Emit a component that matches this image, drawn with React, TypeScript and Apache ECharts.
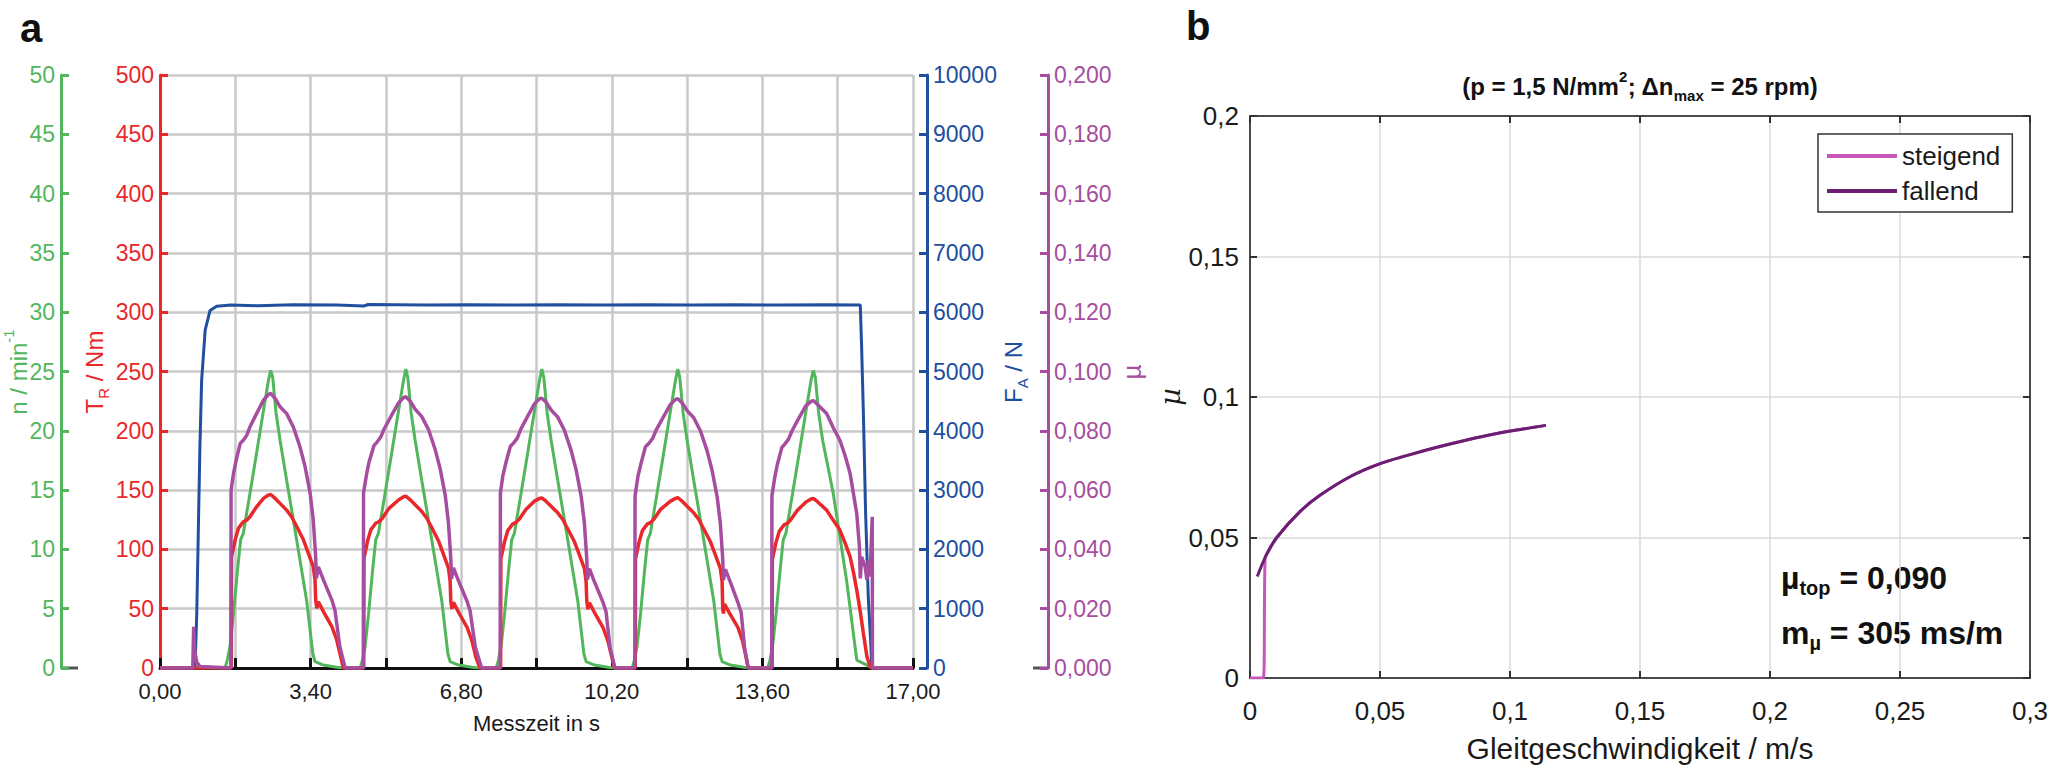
import React, { useEffect, useRef } from 'react';
import * as echarts from 'echarts';

// ---------- Panel a data ----------
const xTickLabelsA = ['0,00', '3,40', '6,80', '10,20', '13,60', '17,00'];

const forceFA: number[][] = [
  [0, 0], [0.79, 0], [0.83, 920], [0.9, 3700], [0.94, 4850], [1.02, 5700], [1.13, 6030], [1.28, 6100],
  [1.6, 6120], [2.2, 6110], [3.0, 6125], [4.0, 6120], [4.6, 6105], [4.7, 6130], [6.0, 6120], [7.0, 6125],
  [8.0, 6120], [9.0, 6125], [10.0, 6120], [11.0, 6125], [12.0, 6120], [13.0, 6125], [14.0, 6120],
  [15.0, 6125], [15.81, 6120], [15.84, 5415], [15.88, 4290], [15.93, 2610], [15.99, 1200], [16.05, 360],
  [16.07, 0], [17, 0],
];

const speedN: number[][] = [
  [0, 0], [1.47, 0],
  [1.52, 0.67], [1.58, 1.8], [1.66, 4.6], [1.75, 8.26], [1.82, 10.8], [1.88, 11.35], [2.03, 14.7], [2.18, 18.1],
  [2.335, 21.7], [2.45, 24.3], [2.5, 25.1], [2.545, 24.5], [2.62, 21.5], [2.71, 19.2], [2.86, 15.8], [3.01, 12.5],
  [3.16, 9.1], [3.31, 5.7], [3.45, 1.2], [3.5, 0.53], [3.69, 0.25], [3.99, 0.06], [4.14, 0],
  [4.52, 0], [4.57, 0.67], [4.63, 1.8], [4.71, 4.6], [4.8, 8.26], [4.87, 10.8], [4.93, 11.35], [5.08, 14.7],
  [5.23, 18.1], [5.385, 21.7], [5.5, 24.3], [5.55, 25.2], [5.595, 24.5], [5.67, 21.5], [5.76, 19.2], [5.91, 15.8],
  [6.06, 12.5], [6.21, 9.1], [6.36, 5.7], [6.5, 1.2], [6.55, 0.53], [6.74, 0.25], [7.04, 0.06], [7.19, 0],
  [7.59, 0], [7.64, 0.67], [7.7, 1.8], [7.78, 4.6], [7.87, 8.26], [7.94, 10.8], [8.0, 11.35], [8.15, 14.7],
  [8.3, 18.1], [8.455, 21.7], [8.57, 24.3], [8.62, 25.2], [8.665, 24.5], [8.74, 21.5], [8.83, 19.2], [8.98, 15.8],
  [9.13, 12.5], [9.28, 9.1], [9.43, 5.7], [9.57, 1.2], [9.62, 0.53], [9.81, 0.25], [10.11, 0.06], [10.26, 0],
  [10.66, 0], [10.71, 0.67], [10.77, 1.8], [10.85, 4.6], [10.94, 8.26], [11.01, 10.8], [11.07, 11.35], [11.22, 14.7],
  [11.37, 18.1], [11.525, 21.7], [11.64, 24.3], [11.69, 25.2], [11.735, 24.5], [11.81, 21.5], [11.9, 19.2],
  [12.05, 15.8], [12.2, 12.5], [12.35, 9.1], [12.5, 5.7], [12.64, 1.2], [12.69, 0.53], [12.88, 0.25], [13.18, 0.06],
  [13.33, 0],
  [13.72, 0], [13.77, 0.67], [13.83, 1.8], [13.91, 4.6], [14.0, 8.26], [14.07, 10.8], [14.13, 11.35], [14.28, 14.7],
  [14.43, 18.1], [14.585, 21.7], [14.7, 24.3], [14.75, 25.1], [14.795, 24.5], [14.87, 21.5], [14.96, 19.2],
  [15.2, 14.7], [15.5, 7.4], [15.73, 0.67], [15.96, 0.25], [16.07, 0], [17, 0],
];

const torqueTR: number[][] = [
  [0, 0], [1.61, 0],
  [1.615, 93.8], [1.695, 107.9], [1.77, 117.7], [1.88, 123.3], [1.96, 124.7], [2.03, 127.5], [2.18, 135.9],
  [2.335, 143.0], [2.45, 145.8], [2.5, 146.3], [2.6, 143.0], [2.71, 138.8], [2.86, 133.1], [2.97, 127.5],
  [3.09, 119.1], [3.24, 107.9], [3.35, 96.6], [3.46, 85.4], [3.5, 74.2], [3.515, 57.3], [3.54, 50.3],
  [3.575, 55.9], [3.69, 47.5], [3.88, 34.8], [3.99, 23.6], [4.08, 9.5], [4.14, 0],
  [4.6, 0], [4.605, 92.5], [4.685, 106.8], [4.76, 116.5], [4.87, 122.0], [4.95, 123.5], [5.02, 126.3],
  [5.17, 134.6], [5.385, 141.7], [5.5, 144.4], [5.55, 144.9], [5.65, 141.8], [5.76, 137.6], [5.91, 132.0],
  [6.02, 126.5], [6.14, 118.0], [6.29, 107.0], [6.4, 95.8], [6.51, 84.6], [6.55, 73.5], [6.565, 56.8],
  [6.59, 49.8], [6.625, 55.4], [6.74, 47.0], [6.93, 34.5], [7.04, 23.4], [7.13, 9.4], [7.22, 0],
  [7.69, 0], [7.695, 92.0], [7.775, 106.0], [7.85, 115.8], [7.96, 121.3], [8.04, 122.8], [8.11, 125.5],
  [8.26, 133.7], [8.455, 140.7], [8.57, 143.0], [8.62, 143.4], [8.72, 140.4], [8.83, 136.3], [8.98, 130.8],
  [9.09, 125.4], [9.21, 117.0], [9.36, 106.2], [9.47, 95.2], [9.58, 84.0], [9.62, 73.0], [9.635, 56.5],
  [9.66, 49.5], [9.695, 55.0], [9.81, 46.6], [10.0, 34.2], [10.11, 23.2], [10.2, 9.3], [10.26, 0],
  [10.73, 0], [10.735, 92.0], [10.815, 106.0], [10.89, 115.8], [11.0, 121.3], [11.08, 122.8], [11.15, 125.5],
  [11.3, 133.7], [11.525, 140.7], [11.64, 143.0], [11.69, 143.6], [11.79, 140.6], [11.9, 136.4], [12.05, 130.8],
  [12.16, 125.4], [12.28, 117.0], [12.43, 106.2], [12.54, 95.2], [12.65, 84.0], [12.69, 73.0], [12.705, 50.0],
  [12.72, 46.0], [12.745, 54.0], [12.86, 46.0], [13.05, 34.0], [13.15, 23.0], [13.23, 9.3], [13.28, 0],
  [13.82, 0], [13.825, 91.5], [13.905, 105.5], [13.98, 115.2], [14.09, 120.8], [14.17, 122.2], [14.24, 125.0],
  [14.39, 133.0], [14.585, 140.0], [14.7, 142.5], [14.75, 143.0], [14.85, 140.0], [15.05, 133.1], [15.2, 124.5],
  [15.35, 116.3], [15.47, 105.0], [15.58, 93.8], [15.66, 80.0], [15.73, 65.7], [15.81, 47.5], [15.88, 29.2],
  [15.96, 9.6], [16.03, 1.4], [16.08, 0], [17, 0],
];

const frictionMu: number[][] = [
  [0, 0], [0.74, 0], [0.76, 0.0139], [0.78, 0.006], [0.83, 0.002], [0.9, 0.0005], [1.6, 0],
  [1.605, 0.06], [1.66, 0.0656], [1.72, 0.0701], [1.81, 0.0757], [1.88, 0.0768], [1.96, 0.0785], [2.03, 0.0813],
  [2.18, 0.0858], [2.335, 0.0903], [2.45, 0.0923], [2.5, 0.0926], [2.6, 0.0909], [2.71, 0.0881], [2.86, 0.0858],
  [3.01, 0.0813], [3.16, 0.0746], [3.275, 0.0679], [3.39, 0.0589], [3.46, 0.0499], [3.5, 0.0409], [3.515, 0.0375],
  [3.53, 0.0302], [3.575, 0.0341], [3.69, 0.0297], [3.88, 0.0229], [3.95, 0.0195], [4.06, 0.0072], [4.18, 0],
  [4.59, 0], [4.595, 0.059], [4.66, 0.065], [4.72, 0.0695], [4.83, 0.075], [4.9, 0.0762], [4.98, 0.0778],
  [5.06, 0.0806], [5.22, 0.085], [5.38, 0.0893], [5.5, 0.0912], [5.55, 0.0915], [5.65, 0.09], [5.76, 0.0873],
  [5.91, 0.0848], [6.06, 0.0805], [6.21, 0.0738], [6.325, 0.0672], [6.44, 0.0582], [6.51, 0.0493], [6.55, 0.0405],
  [6.565, 0.037], [6.58, 0.03], [6.625, 0.0338], [6.74, 0.0294], [6.93, 0.0226], [7.0, 0.0193], [7.12, 0.007],
  [7.26, 0],
  [7.68, 0], [7.685, 0.059], [7.74, 0.0648], [7.81, 0.0693], [7.91, 0.0748], [7.99, 0.076], [8.07, 0.0776],
  [8.14, 0.0804], [8.29, 0.0846], [8.45, 0.089], [8.57, 0.0908], [8.62, 0.091], [8.72, 0.0896], [8.83, 0.087],
  [8.98, 0.0846], [9.13, 0.0802], [9.28, 0.0735], [9.395, 0.0668], [9.51, 0.0578], [9.58, 0.049], [9.62, 0.0402],
  [9.635, 0.0368], [9.65, 0.0298], [9.695, 0.0335], [9.81, 0.029], [10.0, 0.0222], [10.07, 0.019], [10.16, 0.0068],
  [10.27, 0],
  [10.72, 0], [10.725, 0.058], [10.79, 0.0646], [10.86, 0.069], [10.96, 0.0746], [11.04, 0.0758], [11.12, 0.0774],
  [11.2, 0.0802], [11.36, 0.0845], [11.52, 0.0888], [11.64, 0.0906], [11.69, 0.0908], [11.79, 0.0894],
  [11.9, 0.0868], [12.05, 0.0844], [12.2, 0.08], [12.35, 0.0733], [12.465, 0.0666], [12.58, 0.0576],
  [12.65, 0.0488], [12.69, 0.04], [12.705, 0.0366], [12.72, 0.0296], [12.765, 0.0333], [12.88, 0.0288],
  [13.05, 0.022], [13.12, 0.0188], [13.2, 0.0066], [13.28, 0],
  [13.81, 0], [13.815, 0.058], [13.88, 0.0644], [13.94, 0.0688], [14.04, 0.0744], [14.11, 0.0756], [14.19, 0.0772],
  [14.27, 0.08], [14.42, 0.0842], [14.58, 0.0884], [14.7, 0.0899], [14.75, 0.0902], [14.85, 0.0888],
  [15.05, 0.0858], [15.2, 0.081], [15.35, 0.0768], [15.47, 0.0715], [15.58, 0.0656], [15.73, 0.0521],
  [15.79, 0.0409], [15.81, 0.0302], [15.84, 0.0375], [15.92, 0.0341], [15.96, 0.0297], [15.99, 0.0364],
  [16.03, 0.0308], [16.08, 0.051], [16.085, 0], [17, 0],
];

// ---------- Panel b data ----------
const xTickLabelsB = ['0', '0,05', '0,1', '0,15', '0,2', '0,25', '0,3'];
const yTickLabelsB = ['0', '0,05', '0,1', '0,15', '0,2'];

const muRising: number[][] = [
  [0, 0], [0.0051, 0], [0.0058, 0.0429], [0.0064, 0.044], [0.0103, 0.05], [0.0192, 0.0592], [0.0269, 0.065],
  [0.0388, 0.0718], [0.0498, 0.0762], [0.0609, 0.0793], [0.0719, 0.0821], [0.083, 0.0846], [0.094, 0.0868],
  [0.105, 0.0886], [0.1138, 0.0899],
];
const muFalling: number[][] = [
  [0.0028, 0.0361], [0.0064, 0.044], [0.0103, 0.05], [0.0192, 0.0592], [0.0269, 0.065], [0.0388, 0.0718],
  [0.0498, 0.0762], [0.0609, 0.0793], [0.0719, 0.0821], [0.083, 0.0846], [0.094, 0.0868], [0.105, 0.0886],
  [0.1138, 0.0899],
];

// ---------- styles ----------
const FONT = '"Liberation Sans", Arial, Helvetica, sans-serif';
const GREEN = '#52b65c';
const RED = '#e8282b';
const BLUE = '#214f9f';
const PURPLE = '#a64d9f';
const PINK = '#c557b9';
const DARKPURPLE = '#6a1f72';
const GRIDGREY = '#c9c9c9';
const TXT = '#1a1a1a';

const rich = (color: string, size: number, weight: string = 'normal') => ({
  m: { fontSize: size, lineHeight: 34, fill: color, fontFamily: FONT, fontWeight: weight },
  sup: { fontSize: Math.round(size * 0.62), lineHeight: 14, verticalAlign: 'top', fill: color, fontFamily: FONT, fontWeight: weight },
  sub: { fontSize: Math.round(size * 0.62), lineHeight: 14, verticalAlign: 'bottom', fill: color, fontFamily: FONT, fontWeight: weight },
});

function yAxisA(color: string, position: string, offset: number, max: number, interval: number, fmt: (v: number) => string, split = false) {
  return {
    gridIndex: 0, type: 'value', position, offset, min: 0, max, interval,
    axisLine: { show: true, onZero: false, lineStyle: { color, width: 3 } },
    axisTick: { show: true, inside: true, length: 8, lineStyle: { color, width: 3 } },
    axisLabel: { color, fontSize: 23, fontFamily: FONT, margin: 6, formatter: fmt },
    splitLine: { show: split, lineStyle: { color: GRIDGREY, width: 2.5 } },
  };
}

const annotRich = {
  m: { fontSize: 32, fontWeight: 'bold', lineHeight: 40, fill: '#111', fontFamily: FONT },
  sub: { fontSize: 20, fontWeight: 'bold', lineHeight: 22, verticalAlign: 'bottom', fill: '#111', fontFamily: FONT },
};

const option: any = {
  animation: false,
  backgroundColor: '#ffffff',
  textStyle: { fontFamily: FONT },
  grid: [
    { left: 160, top: 75, width: 753, height: 593, outerBoundsMode: 'none', containLabel: false },
    { left: 1250, top: 116, width: 780, height: 562, outerBoundsMode: 'none', containLabel: false },
  ],
  legend: {
    data: ['steigend', 'fallend'],
    orient: 'vertical', left: 1818, top: 134,
    icon: 'rect', itemWidth: 70, itemHeight: 4, itemGap: 9,
    padding: [9, 12, 8, 9],
    borderColor: '#333', borderWidth: 1.5, backgroundColor: '#fff',
    textStyle: { fontSize: 26, color: TXT, fontFamily: FONT },
  },
  xAxis: [
    {
      gridIndex: 0, type: 'value', min: 0, max: 17, interval: 1.7,
      axisLine: { onZero: false, lineStyle: { color: '#111', width: 3 } },
      axisTick: { inside: true, length: 10, lineStyle: { color: '#111', width: 3 } },
      axisLabel: {
        color: TXT, fontSize: 22, margin: 12, fontFamily: FONT,
        formatter: (v: number) => { const k = Math.round(v / 1.7); return k % 2 === 0 ? xTickLabelsA[k / 2] : ''; },
      },
      splitLine: { show: true, lineStyle: { color: GRIDGREY, width: 2.5 } },
      name: 'Messzeit in s', nameLocation: 'middle', nameGap: 44,
      nameTextStyle: { fontSize: 22, color: TXT, fontFamily: FONT },
    },
    {
      gridIndex: 1, type: 'value', min: 0, max: 0.3, interval: 0.05,
      axisLine: { onZero: false, lineStyle: { color: '#4a4a4a', width: 2 } },
      axisTick: { inside: true, length: 7, lineStyle: { color: '#333', width: 2 } },
      axisLabel: {
        color: TXT, fontSize: 26, margin: 20, fontFamily: FONT,
        formatter: (v: number) => xTickLabelsB[Math.round(v / 0.05)],
      },
      splitLine: { show: true, lineStyle: { color: '#dadada', width: 1.5 } },
      name: 'Gleitgeschwindigkeit / m/s', nameLocation: 'middle', nameGap: 55,
      nameTextStyle: { fontSize: 30, color: TXT, fontFamily: FONT },
    },
    {
      gridIndex: 1, type: 'value', position: 'top', min: 0, max: 0.3, interval: 0.05,
      axisLine: { onZero: false, lineStyle: { color: '#4a4a4a', width: 2 } },
      axisTick: { inside: true, length: 7, lineStyle: { color: '#333', width: 2 } },
      axisLabel: { show: false }, splitLine: { show: false },
    },
  ],
  yAxis: [
    yAxisA(RED, 'left', 0, 500, 50, (v) => String(v), true),
    yAxisA(GREEN, 'left', 99, 50, 5, (v) => String(v)),
    yAxisA(BLUE, 'right', 14, 10000, 1000, (v) => String(v)),
    yAxisA(PURPLE, 'right', 135, 0.2, 0.02, (v) => v.toFixed(3).replace('.', ',')),
    {
      gridIndex: 1, type: 'value', position: 'left', min: 0, max: 0.2, interval: 0.05,
      axisLine: { show: true, onZero: false, lineStyle: { color: '#4a4a4a', width: 2 } },
      axisTick: { show: true, inside: true, length: 7, lineStyle: { color: '#333', width: 2 } },
      axisLabel: {
        color: TXT, fontSize: 26, margin: 11, fontFamily: FONT,
        formatter: (v: number) => yTickLabelsB[Math.round(v / 0.05)],
      },
      splitLine: { show: true, lineStyle: { color: '#dadada', width: 1.5 } },
      name: 'µ', nameLocation: 'middle', nameRotate: 90, nameGap: 66,
      nameTextStyle: { fontSize: 27, fontStyle: 'italic', color: TXT, fontFamily: '"DejaVu Serif", serif' },
    },
    {
      gridIndex: 1, type: 'value', position: 'right', min: 0, max: 0.2, interval: 0.05,
      axisLine: { show: true, onZero: false, lineStyle: { color: '#4a4a4a', width: 2 } },
      axisTick: { show: true, inside: true, length: 7, lineStyle: { color: '#333', width: 2 } },
      axisLabel: { show: false }, splitLine: { show: false },
    },
  ],
  series: [
    { name: 'F_A', type: 'line', xAxisIndex: 0, yAxisIndex: 2, data: forceFA, symbol: 'none', lineStyle: { color: BLUE, width: 3 }, itemStyle: { color: BLUE } },
    { name: 'n', type: 'line', xAxisIndex: 0, yAxisIndex: 1, data: speedN, symbol: 'none', lineStyle: { color: GREEN, width: 3 }, itemStyle: { color: GREEN } },
    { name: 'T_R', type: 'line', xAxisIndex: 0, yAxisIndex: 0, data: torqueTR, symbol: 'none', lineStyle: { color: RED, width: 3.5 }, itemStyle: { color: RED } },
    { name: 'mu', type: 'line', xAxisIndex: 0, yAxisIndex: 3, data: frictionMu, symbol: 'none', lineStyle: { color: PURPLE, width: 3.5 }, itemStyle: { color: PURPLE } },
    { name: 'steigend', type: 'line', xAxisIndex: 1, yAxisIndex: 4, data: muRising, symbol: 'none', smooth: 0.4, lineStyle: { color: PINK, width: 3 }, itemStyle: { color: PINK } },
    { name: 'fallend', type: 'line', xAxisIndex: 1, yAxisIndex: 4, data: muFalling, symbol: 'none', smooth: 0.4, lineStyle: { color: DARKPURPLE, width: 3 }, itemStyle: { color: DARKPURPLE } },
  ],
  graphic: [
    { type: 'text', x: 20, y: 8, style: { text: 'a', fontSize: 40, fontWeight: 'bold', fill: '#111', fontFamily: FONT } },
    { type: 'text', x: 1186, y: 6, style: { text: 'b', fontSize: 40, fontWeight: 'bold', fill: '#111', fontFamily: FONT } },
    { type: 'text', x: 18, y: 372, rotation: Math.PI / 2, style: { text: '{m|n / min}{sup|-1}', rich: rich(GREEN, 24), align: 'center', verticalAlign: 'middle' } },
    { type: 'text', x: 94, y: 372, rotation: Math.PI / 2, style: { text: '{m|T}{sub|R}{m| / Nm}', rich: rich(RED, 24), align: 'center', verticalAlign: 'middle' } },
    { type: 'text', x: 1013, y: 372, rotation: Math.PI / 2, style: { text: '{m|F}{sub|A}{m| / N}', rich: rich(BLUE, 24), align: 'center', verticalAlign: 'middle' } },
    { type: 'text', x: 1132, y: 372, rotation: Math.PI / 2, style: { text: 'µ', fontSize: 26, fill: PURPLE, fontFamily: FONT, align: 'center', verticalAlign: 'middle' } },
    { type: 'line', shape: { x1: 61, y1: 668, x2: 78, y2: 668 }, style: { stroke: '#555', lineWidth: 3 } },
    { type: 'line', shape: { x1: 1033, y1: 668, x2: 1048, y2: 668 }, style: { stroke: '#555', lineWidth: 3 } },
    { type: 'text', x: 1640, y: 86, style: { text: '{m|(p = 1,5 N/mm}{sup|2}{m|; \u0394n}{sub|max}{m| = 25 rpm)}', rich: rich('#111', 24, 'bold'), align: 'center', verticalAlign: 'middle' } },
    { type: 'text', x: 1781, y: 578, style: { text: '{m|µ}{sub|top}{m| = 0,090}', rich: annotRich, align: 'left', verticalAlign: 'middle' } },
    { type: 'text', x: 1781, y: 633, style: { text: '{m|m}{sub|µ}{m| = 305 ms/m}', rich: annotRich, align: 'left', verticalAlign: 'middle' } },
  ],
};

export default function App() {
  const ref = useRef<HTMLDivElement>(null);
  useEffect(() => {
    document.body.style.margin = '0';
    const chart = echarts.init(ref.current!, null, { renderer: 'svg' });
    chart.setOption(option);
    return () => chart.dispose();
  }, []);
  return <div ref={ref} style={{ position: 'absolute', left: 0, top: 0, width: 2055, height: 768 }} />;
}
